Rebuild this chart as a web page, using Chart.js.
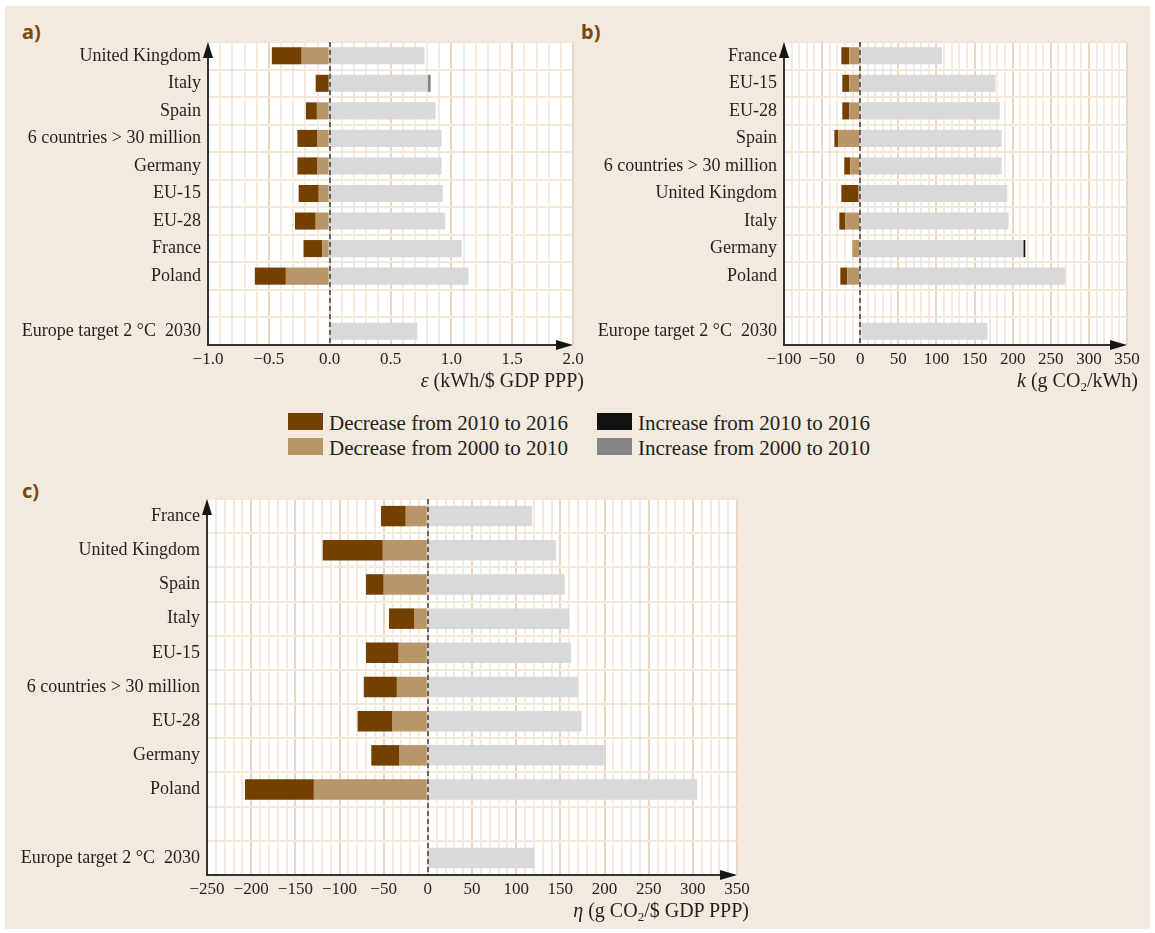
<!DOCTYPE html>
<html>
<head>
<meta charset="utf-8">
<script src="https://cdn.jsdelivr.net/npm/chart.js@4.4.1/dist/chart.umd.min.js"></script>
<style>
  html, body { margin: 0; padding: 0; background: #ffffff; }
  #root { position: relative; width: 1155px; height: 933px; overflow: hidden; }
  #sheet { position: absolute; left: 5px; top: 6px; width: 1145px; height: 923px; background: #f2eade; }
  .box { position: absolute; }
  .box canvas { display: block; }
  .tag { position: absolute; font-family: "Noto Sans", sans-serif; font-weight: 700; font-size: 20px;
         line-height: 20px; color: #7a4812; }
  .axt { position: absolute; font-family: "Liberation Serif", serif; font-size: 20px; line-height: 20px;
         color: #231f20; white-space: nowrap; }
  .axt sub { font-size: 13px; line-height: 0; vertical-align: -4px; }
  .sw { position: absolute; width: 35px; height: 17px; }
  .lt { position: absolute; font-family: "Liberation Serif", serif; font-size: 21px; line-height: 22px;
        color: #231f20; white-space: nowrap; }
</style>
</head>
<body>
<div id="root">
  <div id="sheet"></div>

  <div class="tag" style="left:22px;top:22px">a)</div>
  <div class="tag" style="left:581px;top:22px">b)</div>
  <div class="tag" style="left:22px;top:481px">c)</div>

  <div class="box" style="left:0px;top:22px"><canvas id="chartA" width="600" height="348"></canvas></div>
  <div class="box" style="left:580px;top:22px"><canvas id="chartB" width="575" height="348"></canvas></div>
  <div class="box" style="left:0px;top:479px"><canvas id="chartC" width="760" height="421"></canvas></div>

  <div class="axt" style="right:571px;top:370px"><i>ε</i> (kWh/$ GDP PPP)</div>
  <div class="axt" style="right:17px;top:370px"><i>k</i> (g CO<sub>2</sub>/kWh)</div>
  <div class="axt" style="right:406px;top:900px"><i>η</i> (g CO<sub>2</sub>/$ GDP PPP)</div>

  <div class="sw" style="left:288px;top:413px;background:#744000"></div>
  <div class="lt" style="left:329px;top:412px">Decrease from 2010 to 2016</div>
  <div class="sw" style="left:288px;top:438px;background:#b9966a"></div>
  <div class="lt" style="left:329px;top:437px">Decrease from 2000 to 2010</div>
  <div class="sw" style="left:597px;top:413px;background:#121212"></div>
  <div class="lt" style="left:638px;top:412px">Increase from 2010 to 2016</div>
  <div class="sw" style="left:597px;top:438px;background:#858585"></div>
  <div class="lt" style="left:638px;top:437px">Increase from 2000 to 2010</div>
</div>

<script>
// ---- a) energy intensity of GDP, ε (kWh/$ GDP PPP) ----
const regionsA = ['United Kingdom', 'Italy', 'Spain', '6 countries > 30 million', 'Germany',
                  'EU-15', 'EU-28', 'France', 'Poland', '', 'Europe target 2 °C  2030'];
const eps2016     = [0.78, 0.805, 0.87, 0.92, 0.92, 0.93, 0.95, 1.085, 1.14, null, 0.72];
const epsRise0010 = [0, 0.025, 0, 0, 0, 0, 0, 0, 0, null, null];
const epsRise1016 = [0, 0, 0, 0, 0, 0, 0, 0, 0, null, null];
const epsDrop0010 = [-0.23, 0, -0.105, -0.10, -0.10, -0.09, -0.115, -0.06, -0.36, null, null];
const epsDrop1016 = [-0.245, -0.115, -0.09, -0.165, -0.165, -0.165, -0.17, -0.155, -0.255, null, null];
const ticksA = [-1.0, -0.5, 0.0, 0.5, 1.0, 1.5, 2.0];

// ---- b) carbon intensity of electricity, k (g CO2/kWh) ----
const regionsB = ['France', 'EU-15', 'EU-28', 'Spain', '6 countries > 30 million', 'United Kingdom',
                  'Italy', 'Germany', 'Poland', '', 'Europe target 2 °C  2030'];
const k2016     = [107, 177.5, 183, 185.5, 185.5, 193, 194.5, 214, 269, null, 167];
const kRise0010 = [0, 0, 0, 0, 0, 0, 0, 0, 0, null, null];
const kRise1016 = [0, 0, 0, 0, 0, 0, 0, 2.6, 0, null, null];
const kDrop0010 = [-14.4, -14.4, -14.4, -28.7, -13, -2.2, -19.6, -10.4, -17, null, null];
const kDrop1016 = [-10.4, -9.1, -9.1, -5.2, -7.9, -22.6, -7.8, 0, -9.1, null, null];
const ticksB = [-100, -50, 0, 50, 100, 150, 200, 250, 300, 350];

// ---- c) carbon intensity of GDP, η (g CO2/$ GDP PPP) ----
const regionsC = ['France', 'United Kingdom', 'Spain', 'Italy', 'EU-15', '6 countries > 30 million',
                  'EU-28', 'Germany', 'Poland', '', 'Europe target 2 °C  2030'];
const eta2016     = [118, 145, 155, 160, 162, 170, 174, 200, 305, null, 121];
const etaRise0010 = [0, 0, 0, 0, 0, 0, 0, 0, 0, null, null];
const etaRise1016 = [0, 0, 0, 0, 0, 0, 0, 0, 0, null, null];
const etaDrop0010 = [-25, -51, -50, -15, -33, -35, -40, -32, -129, null, null];
const etaDrop1016 = [-28, -68, -20, -29, -37, -37.5, -39.5, -32, -78, null, null];
const ticksC = [-250, -200, -150, -100, -50, 0, 50, 100, 150, 200, 250, 300, 350];

// colours
const LEVEL = '#d9d9d9';
const RISE_0010 = '#858585';
const RISE_1016 = '#121212';
const DROP_0010 = '#b9966a';
const DROP_1016 = '#744000';
const GRID_MINOR = '#f4eadf';
const GRID_MAJOR = '#e8d6c1';
const GRID_ROW = '#f2e7d9';
const TEXT = '#231f20';
const SERIF = "'Liberation Serif', 'Times New Roman', serif";

// white plot area, dashed zero reference and arrowed axes
const frame = {
  id: 'frame',
  beforeDraw(chart) {
    const { ctx, chartArea: a } = chart;
    ctx.save();
    ctx.fillStyle = '#ffffff';
    ctx.fillRect(a.left, a.top, a.right - a.left, a.bottom - a.top);
    ctx.restore();
  },
  afterDatasetsDraw(chart) {
    const { ctx, chartArea: a } = chart;
    const x0 = Math.round(chart.scales.x.getPixelForValue(0));
    ctx.save();
    ctx.strokeStyle = '#4a4a4a';
    ctx.lineWidth = 1.6;
    ctx.setLineDash([5, 3]);
    ctx.beginPath();
    ctx.moveTo(x0, a.top);
    ctx.lineTo(x0, a.bottom);
    ctx.stroke();
    ctx.setLineDash([]);

    ctx.strokeStyle = '#333333';
    ctx.fillStyle = '#161616';
    ctx.lineWidth = 2;
    ctx.beginPath();
    ctx.moveTo(a.left, a.bottom + 1);
    ctx.lineTo(a.left, a.top + 8);
    ctx.stroke();
    ctx.beginPath();
    ctx.moveTo(a.left, a.top);
    ctx.lineTo(a.left - 5, a.top + 16);
    ctx.lineTo(a.left + 5, a.top + 16);
    ctx.closePath();
    ctx.fill();

    ctx.beginPath();
    ctx.moveTo(a.left - 1, a.bottom);
    ctx.lineTo(a.right - 8, a.bottom);
    ctx.stroke();
    ctx.beginPath();
    ctx.moveTo(a.right, a.bottom);
    ctx.lineTo(a.right - 17, a.bottom - 5);
    ctx.lineTo(a.right - 17, a.bottom + 5);
    ctx.closePath();
    ctx.fill();
    ctx.restore();
  }
};

function fmt(v, decimals) {
  const s = Math.abs(v).toFixed(decimals);
  return (v < -1e-9 ? '\u2212' : '') + s;
}

function panel(id, p) {
  const isLabelled = v => p.ticks.some(t => Math.abs(t - v) < p.step / 100);
  new Chart(document.getElementById(id), {
    type: 'bar',
    data: {
      labels: p.labels,
      datasets: [
        { label: '2016', data: p.level, backgroundColor: LEVEL },
        { label: 'Increase from 2000 to 2010', data: p.rise0010, backgroundColor: RISE_0010 },
        { label: 'Increase from 2010 to 2016', data: p.rise1016, backgroundColor: RISE_1016 },
        { label: 'Decrease from 2000 to 2010', data: p.drop0010, backgroundColor: DROP_0010 },
        { label: 'Decrease from 2010 to 2016', data: p.drop1016, backgroundColor: DROP_1016 }
      ]
    },
    options: {
      indexAxis: 'y',
      responsive: false,
      animation: false,
      events: [],
      datasets: { bar: { barPercentage: p.barPct, categoryPercentage: 1, borderWidth: 0 } },
      layout: { autoPadding: false, padding: { left: 0, top: p.padTop, right: p.padRight, bottom: 0 } },
      plugins: { legend: { display: false }, tooltip: { enabled: false } },
      scales: {
        x: {
          stacked: true,
          min: p.ticks[0],
          max: p.ticks[p.ticks.length - 1],
          border: { display: false },
          grid: {
            drawTicks: false,
            lineWidth: 2,
            color: ctx => {
              const v = ctx.tick ? ctx.tick.value : 0;
              const r = v / p.major;
              return Math.abs(r - Math.round(r)) < 1e-6 ? GRID_MAJOR : GRID_MINOR;
            }
          },
          ticks: {
            stepSize: p.step,
            autoSkip: false,
            maxRotation: 0,
            padding: 4,
            color: TEXT,
            font: { family: SERIF, size: 17 },
            callback: v => (isLabelled(v) ? fmt(v, p.decimals) : '')
          },
          afterFit: s => { s.height = p.xAxisH; }
        },
        y: {
          stacked: true,
          border: { display: false },
          grid: { drawTicks: false, lineWidth: 2, color: GRID_ROW, offset: true },
          ticks: { padding: 7, autoSkip: false, color: TEXT, font: { family: SERIF, size: 18 } },
          afterFit: s => { s.width = p.yAxisW; }
        }
      }
    },
    plugins: [frame]
  });
}

panel('chartA', {
  labels: regionsA, level: eps2016, rise0010: epsRise0010, rise1016: epsRise1016,
  drop0010: epsDrop0010, drop1016: epsDrop1016,
  ticks: ticksA, step: 0.1, major: 0.5, decimals: 1,
  yAxisW: 208, xAxisH: 25, padTop: 20, padRight: 27, barPct: 0.62
});

panel('chartB', {
  labels: regionsB, level: k2016, rise0010: kRise0010, rise1016: kRise1016,
  drop0010: kDrop0010, drop1016: kDrop1016,
  ticks: ticksB, step: 10, major: 50, decimals: 0,
  yAxisW: 204, xAxisH: 25, padTop: 20, padRight: 28, barPct: 0.62
});

panel('chartC', {
  labels: regionsC, level: eta2016, rise0010: etaRise0010, rise1016: etaRise1016,
  drop0010: etaDrop0010, drop1016: etaDrop1016,
  ticks: ticksC, step: 10, major: 50, decimals: 0,
  yAxisW: 207, xAxisH: 25, padTop: 20, padRight: 23, barPct: 0.6
});
</script>
</body>
</html>
